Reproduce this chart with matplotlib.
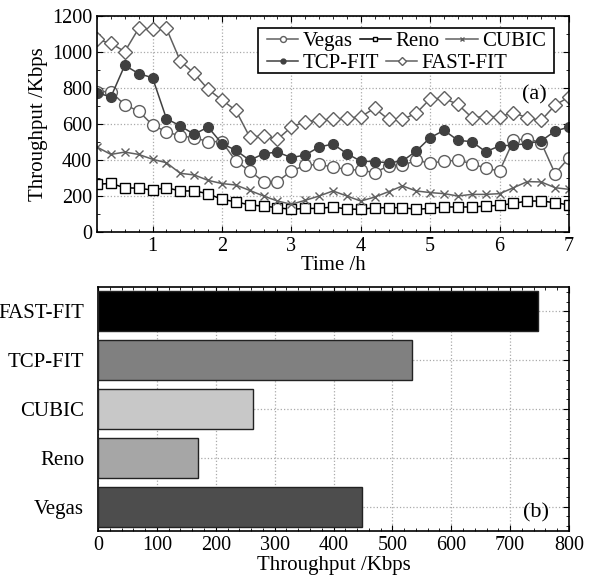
import matplotlib
matplotlib.use('Agg')
import matplotlib.pyplot as plt
from matplotlib.ticker import MultipleLocator
from matplotlib.patches import Rectangle
import numpy as np

plt.rcParams['font.family'] = ['Liberation Serif', 'DejaVu Serif']

# time axis (h)
t = np.round(np.arange(0.2, 7.01, 0.2), 1)

vegas = [780, 780, 706, 672, 594, 557, 533, 524, 502, 502, 394, 339, 280, 280, 339, 370, 376, 360,
         348, 343, 330, 367, 370, 398, 382, 394, 398, 380, 354, 339, 509, 519, 496, 324, 413]
reno = [265, 270, 246, 243, 233, 246, 228, 228, 213, 181, 168, 150, 144, 135, 126, 131, 131, 139,
        128, 126, 135, 135, 135, 126, 131, 139, 139, 139, 144, 148, 159, 172, 172, 163, 150]
cubic = [472, 431, 444, 431, 404, 385, 326, 317, 287, 269, 261, 231, 200, 172, 154, 176, 200, 228,
         200, 172, 194, 224, 256, 228, 219, 213, 200, 209, 209, 213, 246, 280, 278, 246, 237]
tcpfit = [774, 750, 926, 880, 857, 630, 589, 543, 583, 491, 454, 398, 435, 444, 413, 428, 472, 489,
          435, 394, 391, 385, 394, 450, 524, 565, 509, 502, 446, 478, 483, 491, 506, 561, 583]
fastfit = [1070, 1048, 1002, 1131, 1126, 1131, 950, 881, 793, 733, 676, 528, 533, 515, 583, 613, 622, 626,
           632, 640, 688, 625, 625, 660, 740, 742, 709, 636, 641, 641, 663, 634, 620, 705, 750]

# average throughput bars
bar_names = ['Vegas', 'Reno', 'CUBIC', 'TCP-FIT', 'FAST-FIT']
bar_vals = [448, 170, 264, 534, 748]
bar_colors = ['#4d4d4d', '#a6a6a6', '#c8c8c8', '#808080', '#000000']

fig = plt.figure(figsize=(5.95, 5.87), dpi=100)
W, H = 595., 587.
ax1 = fig.add_axes([97/W, 1-232/H, (569-97)/W, (232-16)/H])
ax2 = fig.add_axes([98/W, 1-531/H, (569-98)/W, (531-287)/H])

g = '#606060'
l_vegas, = ax1.plot(t, vegas, '-o', color=g, mfc='white', mec=g, ms=8.5, lw=1.1, label='Vegas')
l_tcp, = ax1.plot(t, tcpfit, '-o', color='#404040', mfc='#404040', mec='#404040', ms=7, lw=1.1, label='TCP-FIT')
l_reno, = ax1.plot(t, reno, '-s', color='black', mfc='white', mec='black', ms=7, lw=1.1, label='Reno')
l_fast, = ax1.plot(t, fastfit, '-D', color=g, mfc='white', mec=g, ms=7.5, lw=1.1, label='FAST-FIT')
l_cubic, = ax1.plot(t, cubic, '-x', color=g, mec=g, ms=6, lw=1.1, label='CUBIC')

ax1.set_xlim(0.2, 7)
ax1.set_ylim(0, 1200)
ax1.xaxis.set_major_locator(MultipleLocator(1))
ax1.xaxis.set_minor_locator(MultipleLocator(0.2))
ax1.yaxis.set_major_locator(MultipleLocator(200))
ax1.yaxis.set_minor_locator(MultipleLocator(100))
ax1.grid(True, which='major', linestyle=':', color='#aaaaaa', lw=0.9)
ax1.set_xlabel('Time /h', fontsize=15, labelpad=0)
ax1.set_ylabel('Throughput /Kbps', fontsize=15, labelpad=3)

# legend rows are not column aligned, so two frameless legends inside one box
lkw = dict(fontsize=15, frameon=False, borderpad=0, borderaxespad=0, handlelength=1.5,
           handletextpad=0.2, columnspacing=0.35, markerscale=0.5, loc='center left')
leg1 = ax1.legend([l_vegas, l_reno, l_cubic], ['Vegas', 'Reno', 'CUBIC'], ncol=3,
                  bbox_to_anchor=(0.36, 0.884), **lkw)
ax1.add_artist(leg1)
ax1.legend([l_tcp, l_fast], ['TCP-FIT', 'FAST-FIT'], ncol=2,
           bbox_to_anchor=(0.36, 0.782), **lkw)
ax1.add_patch(Rectangle((0.341, 0.736), 0.627, 0.208, transform=ax1.transAxes,
                        facecolor='white', edgecolor='black', lw=1.2, zorder=4))
ax1.text(0.953, 0.633, '(a)', transform=ax1.transAxes, fontsize=16, ha='right', va='center')

y = np.arange(len(bar_names))
ax2.barh(y, bar_vals, height=0.82, color=bar_colors, edgecolor='#222222', lw=1, zorder=3)
ax2.set_yticks(y)
ax2.set_yticklabels(bar_names)
ax2.set_xlim(0, 800)
ax2.set_ylim(-0.5, 4.5)
ax2.xaxis.set_major_locator(MultipleLocator(100))
ax2.xaxis.set_minor_locator(MultipleLocator(20))
ax2.yaxis.set_minor_locator(MultipleLocator(0.2))
ax2.grid(True, which='major', linestyle=':', color='#aaaaaa', lw=0.9, zorder=0)
ax2.set_xlabel('Throughput /Kbps', fontsize=15, labelpad=1)
ax2.text(0.957, 0.073, '(b)', transform=ax2.transAxes, fontsize=16, ha='right', va='center')

for ax in (ax1, ax2):
    ax.tick_params(which='both', direction='in', top=True, right=True, labelsize=14.5)
    ax.tick_params(which='major', length=4)
    ax.tick_params(which='minor', length=2)
    ax.set_axisbelow(True)
    for s in ax.spines.values():
        s.set_linewidth(1.2)
ax2.tick_params(axis='y', which='both', left=False, labelleft=True)
ax2.tick_params(axis='y', which='major', pad=10, labelsize=15)

fig.savefig('out.png', dpi=100)
